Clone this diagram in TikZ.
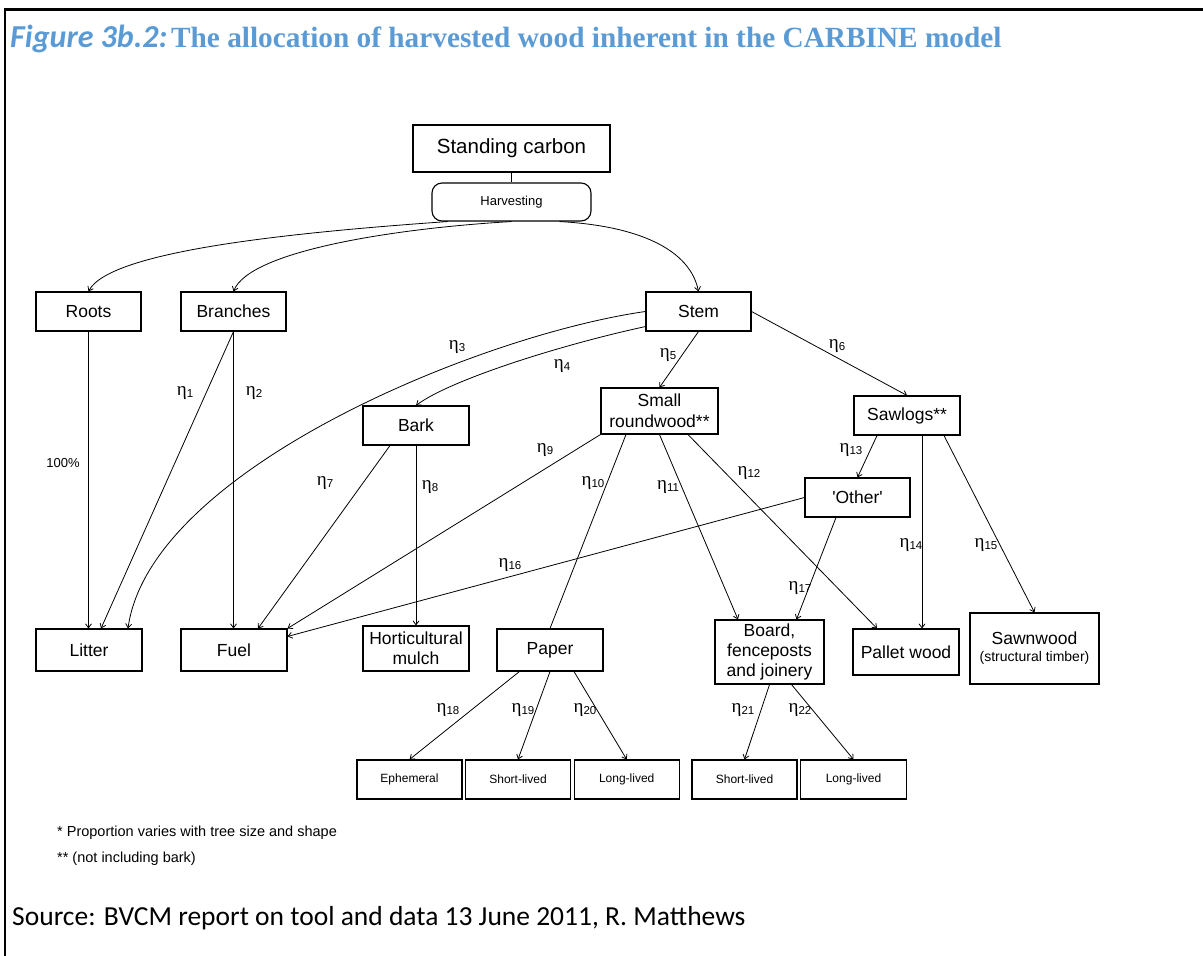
\documentclass[tikz,border=0pt]{standalone}
\usepackage{fontspec}
\setmainfont{Liberation Sans}
\newfontfamily\titleit{Carlito}
\newfontfamily\titlesr{Liberation Serif}
\newfontfamily\calib{Carlito}
\newfontfamily\etaf{Liberation Serif}
\usetikzlibrary{arrows.meta,calc}
\definecolor{titleblue}{RGB}{91,155,213}
\newcommand{\et}[1]{{\etaf\fontsize{19}{19}\selectfont η}\raisebox{-0.45ex}{\fontsize{11.5}{11.5}\selectfont #1}}
\tikzset{
  box/.style={draw, line width=1.1pt, inner sep=0pt, align=center, font=\fontsize{17.5}{20}\selectfont, minimum width=105pt, minimum height=39pt},
  leaf/.style={box, font=\fontsize{12}{14}\selectfont},
  arr/.style={line width=0.8pt, -{Straight Barb[length=4pt,width=6pt]}},
  ln/.style={line width=0.8pt},
  lbl/.style={inner sep=0pt},
}
\begin{document}
\begin{tikzpicture}[x=1pt,y=1pt]
\useasboundingbox (0,0) rectangle (1203,-956);
\fill[white] (0,0) rectangle (1203,-956);
% frame
\draw[line width=3pt] (4,-9) -- (1203,-9);
\draw[line width=2pt] (5,-9) -- (5,-956);
% title
\node[lbl, anchor=base west, text=titleblue] (title) at (10,-47) {{\titleit\bfseries\itshape\fontsize{32}{34}\selectfont Figure 3b.2:} {\titlesr\bfseries\fontsize{29.3}{31}\selectfont The allocation of harvested wood inherent in the CARBINE model}};

% nodes
\node[box, minimum width=197pt, minimum height=47pt, font=\fontsize{20.5}{24}\selectfont] (sc) at (511.5,-148.5) {Standing carbon};
\node[box, rounded corners=10pt, minimum width=159pt, minimum height=38pt, font=\fontsize{13}{15}\selectfont] (harv) at (511.5,-202) {Harvesting};
\node[box] (roots) at (88.5,-311.5) {Roots};
\node[box] (branches) at (233.5,-311.5) {Branches};
\node[box] (stem) at (698.5,-311.5) {Stem};
\node[box, minimum width=106pt] (bark) at (416,-425.5) {Bark};
\node[box, minimum width=117pt, minimum height=46pt, font=\fontsize{17.5}{20.7}\selectfont] (srw) at (659.5,-411) {Small\\roundwood**};
\node[box, minimum width=106pt] (sawlogs) at (907,-415.5) {Sawlogs**};
\node[box] (other) at (857.5,-497.5) {\textquotesingle Other\textquotesingle};
\node[box, minimum width=106pt, minimum height=42pt] (litter) at (89,-650) {Litter};
\node[box, minimum width=106pt, minimum height=42pt] (fuel) at (234,-650) {Fuel};
\node[box, minimum width=106pt, minimum height=45pt] (mulch) at (416,-648.5) {Horticultural\\mulch};
\node[box, minimum width=106pt, minimum height=42pt] (paper) at (550,-650) {Paper};
\node[box, minimum width=109pt, minimum height=64pt] (board) at (769.5,-652) {Board,\\fenceposts\\and joinery};
\node[box, minimum width=106pt, minimum height=46pt] (pallet) at (906,-652) {Pallet wood};
\node[box, minimum width=129pt, minimum height=71pt] (sawn) at (1034.5,-648.5) {Sawnwood\\[-3pt]{\fontsize{14}{16}\selectfont (structural timber)}};
\node[leaf] (eph) at (409.5,-779.5) {Ephemeral};
\node[leaf] (sla) at (518,-779.5) {Short-lived};
\node[leaf] (lla) at (626.7,-779.5) {Long-lived};
\node[leaf] (slb) at (744.5,-779.5) {Short-lived};
\node[leaf, minimum width=106pt] (llb) at (853.5,-779.5) {Long-lived};

% connectors
\draw[ln] (sc.south) -- (harv.north);
\draw[arr] ($(harv.south)+(-64,0)$) .. controls (300,-232) and (110,-250) .. (roots.north);
\draw[arr] (harv.south) .. controls (400,-228) and (250,-250) .. (branches.north);
\draw[arr] ($(harv.south)+(48,0)$) .. controls (640,-226) and (690,-250) .. (stem.north);
\draw[arr] (roots.south) -- (roots.south |- litter.north);
\draw[arr] (branches.south) -- ($(litter.north)+(12,0)$);
\draw[arr] (branches.south) -- (branches.south |- fuel.north);
\draw[arr] (stem.west) .. controls (480,-335) and (150,-470) .. ($(litter.north)+(39,0)$);
\draw[arr] ($(stem.south west)+(0,5)$) .. controls (560,-345) and (450,-380) .. (bark.north);
\draw[arr] (stem.south) -- (srw.north);
\draw[arr] (stem.east) -- (sawlogs.north);
\draw[arr] ($(bark.south)+(-26,0)$) -- ($(fuel.north)+(24,0)$);
\draw[arr] (bark.south) -- (bark.south |- mulch.north);
\draw[arr] (srw.south west) -- (fuel.north east);
\draw[arr] (other.west) -- ($(fuel.north east)+(0,-8)$);
\draw[ln] ($(srw.south)+(-33.5,0)$) -- (paper.north);
\draw[arr] (srw.south) -- ($(board.north)+(-31.5,0)$);
\draw[arr] ($(srw.south)+(28.5,0)$) -- ($(pallet.north)+(-29,0)$);
\draw[arr] ($(sawlogs.south)+(-30,0)$) -- (other.north);
\draw[arr] ($(sawlogs.south)+(15,0)$) -- ($(pallet.north)+(16,0)$);
\draw[arr] ($(sawlogs.south)+(37,0)$) -- (sawn.north);
\draw[arr] ($(other.south)+(-21.5,0)$) -- ($(board.north)+(27,0)$);
\draw[arr] ($(paper.south)+(-30.6,0)$) -- (eph.north);
\draw[arr] (paper.south) -- (sla.north);
\draw[arr] ($(paper.south)+(24,0)$) -- (lla.north);
\draw[arr] (board.south) -- (slb.north);
\draw[arr] ($(board.south)+(22,0)$) -- (llb.north);

% labels
\node[lbl] (e1) at (185,-393) {\et{1}};
\node[lbl] (e2) at (254,-393) {\et{2}};
\node[lbl, font=\fontsize{13}{15}\selectfont] (p100) at (63,-463) {100\%};
\node[lbl] (e3) at (457,-347) {\et{3}};
\node[lbl] (e4) at (562,-366) {\et{4}};
\node[lbl] (e5) at (668,-355) {\et{5}};
\node[lbl] (e6) at (837,-346) {\et{6}};
\node[lbl] (e7) at (325,-483) {\et{7}};
\node[lbl] (e8) at (430,-487) {\et{8}};
\node[lbl] (e9) at (545,-450) {\et{9}};
\node[lbl] (e10) at (593,-483) {\et{10}};
\node[lbl] (e11) at (668,-487) {\et{11}};
\node[lbl] (e12) at (749,-473) {\et{12}};
\node[lbl] (e13) at (851,-450) {\et{13}};
\node[lbl] (e14) at (911,-545) {\et{14}};
\node[lbl] (e15) at (986,-545) {\et{15}};
\node[lbl] (e16) at (510,-565) {\et{16}};
\node[lbl] (e17) at (800,-588) {\et{17}};
\node[lbl] (e18) at (448,-710) {\et{18}};
\node[lbl] (e19) at (523,-710) {\et{19}};
\node[lbl] (e20) at (585,-710) {\et{20}};
\node[lbl] (e21) at (743,-710) {\et{21}};
\node[lbl] (e22) at (800,-710) {\et{22}};

% footnotes
\node[lbl, anchor=base west, font=\fontsize{14.5}{16}\selectfont] (fn1) at (57,-836) {* Proportion varies with tree size and shape};
\node[lbl, anchor=base west, font=\fontsize{14.5}{16}\selectfont] (fn2) at (57,-862) {** (not including bark)};
\node[lbl, anchor=base west, font=\calib\fontsize{27.5}{30}\selectfont] (src) at (12,-925) {Source: BVCM report on tool and data 13 June 2011, R. Matthews};
\end{tikzpicture}
\end{document}
